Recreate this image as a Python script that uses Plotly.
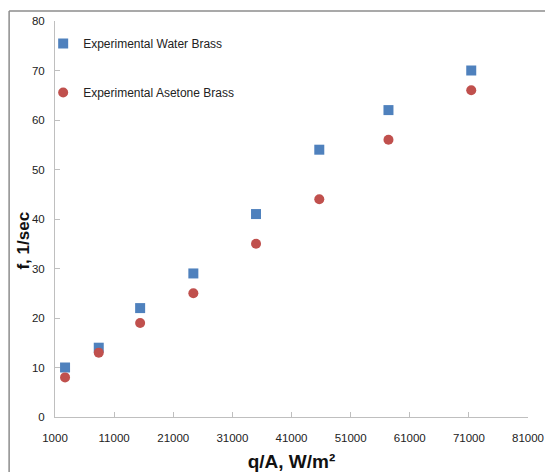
import plotly.graph_objects as go

# Data
heat_flux_water = [2700, 8400, 15400, 24400, 35000, 45700, 57400, 71400]
freq_water = [10, 14, 22, 29, 41, 54, 62, 70]
heat_flux_acetone = [2700, 8400, 15400, 24400, 35000, 45700, 57400, 71400]
freq_acetone = [8, 13, 19, 25, 35, 44, 56, 66]
x_tick_values = [1000, 11000, 21000, 31000, 41000, 51000, 61000, 71000, 81000]
x_tick_labels = ["1000", "11000", "21000", "31000", "41000", "51000", "61000", "71000", "81000"]
y_tick_values = [0, 10, 20, 30, 40, 50, 60, 70, 80]

FONT = "Liberation Sans, Arial, sans-serif"

fig = go.Figure()
fig.add_trace(go.Scatter(
    x=heat_flux_water, y=freq_water, mode="markers",
    name="Experimental Water Brass", legendgroup="w",
    marker=dict(symbol="square", size=10, color="#4F81BD"),
))
fig.add_trace(go.Scatter(
    x=heat_flux_acetone, y=freq_acetone, mode="markers",
    name="Experimental Asetone Brass", legendgroup="a",
    marker=dict(symbol="circle", size=10, color="#C0504D"),
))

axis_common = dict(
    showgrid=False, zeroline=False, showline=True, linecolor="#BFBFBF", linewidth=1,
    ticks="inside", ticklen=5, tickcolor="#BFBFBF",
    tickfont=dict(family=FONT, size=11.5, color="#222222"),
    automargin=False,
)

fig.update_layout(
    width=545, height=472,
    paper_bgcolor="white", plot_bgcolor="white",
    margin=dict(l=55, r=17, t=21, b=55, autoexpand=False),
    showlegend=True,
    legend=dict(
        x=-0.025, y=0.98, xanchor="left", yanchor="top",
        bgcolor="rgba(0,0,0,0)", tracegroupgap=30,
        font=dict(family=FONT, size=12, color="#222222"),
        itemwidth=30,
    ),
    xaxis=dict(
        range=[1000, 81000], tickvals=x_tick_values, ticktext=x_tick_labels,
        ticklabelstandoff=10,
        title=dict(text="<b>q/A, W/m²</b>", font=dict(family=FONT, size=19, color="#111111"), standoff=13),
        **axis_common,
    ),
    yaxis=dict(
        range=[0, 80], tickvals=y_tick_values,
        ticklabelstandoff=7,
        **axis_common,
    ),
    annotations=[
        dict(text="<b>f, 1/sec</b>", textangle=-90, xref="paper", yref="paper",
             x=-0.066, y=0.445, xanchor="center", yanchor="middle", showarrow=False,
             font=dict(family=FONT, size=17, color="#111111")),
    ],
    shapes=[
        dict(type="line", xref="paper", yref="paper", x0=-0.097, x1=1.2, y0=1.025, y1=1.025,
             line=dict(color="#8C8C8C", width=1.5)),
        dict(type="line", xref="paper", yref="paper", x0=-0.097, x1=-0.097, y0=1.025, y1=-0.3,
             line=dict(color="#8C8C8C", width=1.5)),
    ],
)

fig.write_html(
    "out.html",
    config={"displayModeBar": False},
    post_script="document.body.style.margin='0';document.body.style.overflow='hidden';",
)
